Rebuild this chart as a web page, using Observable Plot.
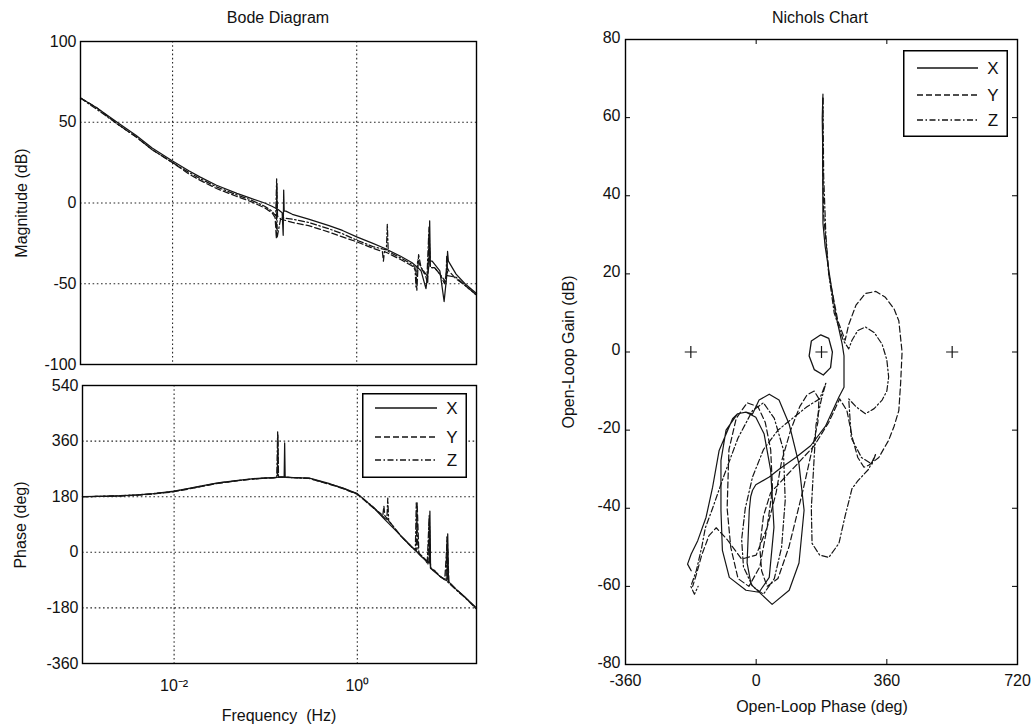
<!DOCTYPE html>
<html><head><meta charset="utf-8">
<script src="https://cdn.jsdelivr.net/npm/d3@7"></script>
<script src="https://cdn.jsdelivr.net/npm/@observablehq/plot@0.6"></script>
<style>
html,body{margin:0;padding:0;background:#fff;}
#root{position:relative;width:1035px;height:728px;overflow:hidden;font-family:"Liberation Sans",Arial,sans-serif;color:#111;}
#root > svg{position:absolute;}
.lbl{position:absolute;font-size:16px;white-space:pre;transform:translate(-50%,-50%);line-height:1;}
.rot{transform:translate(-50%,-50%) rotate(-90deg);}
</style></head><body><div id="root"></div>
<script>
// ---------- Bode data ----------
const fX   = [0.001,0.0015,0.0025,0.004,0.006,0.01,0.015,0.02,0.03,0.05,0.07,0.1,0.12,0.14,0.155,0.159,0.161,0.163,0.17,0.2,0.3,0.5,0.7,1,1.5,2,3,4,5,5.65,6.1,6.2,6.3,6.6,8,8.9,9.5,9.7,9.9,12,15,20];
const magX = [65,59,50,42,34,26,20,16,11,6,3,0,-2,-4,-6,-20,8,-5,-5,-7,-10,-14,-17,-21,-25,-28,-33,-37,-42,-53,-38,-11,-36,-36,-42,-61,-45,-30,-36,-44,-50,-56];
const phX  = [180,181,183,186,190,198,208,215,225,233,238,241,242,243,244,244,354,244,243,242,240,222,208,190,145,106,53,16,-14,-25,-35,133,-50,-57,-78,-88,-92,60,-95,-120,-145,-180];

const fY   = [0.001,0.0015,0.0025,0.004,0.006,0.01,0.015,0.02,0.03,0.05,0.07,0.1,0.12,0.13,0.134,0.136,0.138,0.15,0.2,0.3,0.5,0.7,1,1.5,1.9,1.95,2.0,3,4,4.4,4.5,4.7,5,5.6,5.9,6.1,6.3,7,8,9,9.6,10,12,15,20];
const magY = [65,59,49,41,33,25,18,14,9,4,1,-3,-6,-9,-22,12,-8,-10,-12,-14,-18,-21,-24,-28,-30,-36,-30,-35,-39,-42,-54,-32,-40,-45,-50,-20,-40,-40,-44,-50,-40,-42,-47,-51,-57];
const phY  = [180,181,182,185,189,196,206,213,223,232,237,240,241,242,243,380,243,243,242,239,220,206,188,143,120,150,118,52,14,4,160,-5,-12,-28,-40,110,-50,-60,-78,-88,40,-96,-120,-146,-182];

const fZ   = [0.001,0.0015,0.0025,0.004,0.006,0.01,0.015,0.02,0.03,0.05,0.07,0.1,0.12,0.132,0.135,0.137,0.15,0.2,0.3,0.5,0.7,1,1.5,2.1,2.15,2.2,3,4,4.3,4.4,4.6,5,5.8,6.1,6.3,7,8,9.3,9.5,9.7,12,15,20];
const magZ = [65,58,49,41,33,25,19,15,10,5,2,-2,-5,-8,15,-21,-9,-10,-12,-16,-19,-23,-27,-29,-13,-30,-34,-38,-40,-52,-35,-40,-45,-15,-40,-40,-44,-49,-33,-45,-46,-51,-57];
const phZ  = [180,181,183,186,190,197,207,214,224,232,237,240,241,242,390,243,243,242,239,221,207,189,146,104,175,102,52,15,8,160,0,-10,-30,120,-52,-60,-78,-90,50,-96,-122,-147,-184];

const freqGrid = [0.01, 1];
const freqTickLabels = ["10\u207B\u00B2", "10\u2070"];
const magTicks = [-100, -50, 0, 50, 100];
const phaseTicks = [-360, -180, 0, 180, 360, 540];

// ---------- Nichols data ----------
const nicXPhase = [184,182,183,184,190,200,219,237,242,242,228,191,150,109,63,36,-1,-10,-15,-19,-25,-14,14,44,91,118,132,118,91,63,36,8,-10,-28,-51,-83,-97,-97,-93,-74,-28,8,36,49,40,22,-1,-28,-51,-65,-102,-120,-138,-161,-179,-189,-179,-185];
const nicXGain  = [66,60,54,33,27,21,9.7,2,-1,-9,-11.5,-19,-24,-27,-30,-32,-34,-35.4,-37,-40.5,-54,-59.5,-62,-64.6,-61,-54,-40.5,-28.7,-18.5,-12.3,-10.8,-12.3,-15.9,-15.4,-15.8,-20,-27.8,-40.6,-50.8,-57.7,-61,-61.5,-57.7,-44.9,-30.3,-21,-16.7,-15.4,-15.8,-17.1,-25.2,-34.6,-42.3,-48.3,-51.7,-54.3,-56,-55];
const nicXLoopPhase = [178,200,210,205,185,160,146,152,178];
const nicXLoopGain  = [4.4,3.5,0,-4,-5.9,-4.5,-1,2.8,4.4];

const nicYPhase = [184,183,186,200,225,245,255,275,301,330,356,380,393,402,398,393,380,365,338,310,297,280,265,250,230,200,160,120,80,40,20,10,15,30,60,90,130,154,170,173,160,140,120,95,70,55,30,10,-20,-50,-70,-80,-75,-55,-25,5,25,40,45,30,0,-40,-80,-110,-130,-150,-165,-175];
const nicYGain  = [65,50,35,20,8,3,7,12,15,15.5,14,11,8,0,-8,-15,-19,-22.6,-27,-29,-29.5,-27,-22,-15,-12,-18,-24,-28,-32,-36,-42,-50,-56,-60,-58,-50,-35,-25,-18,-12,-10,-11,-14,-20,-28,-36,-45,-55,-60,-58,-50,-40,-25,-17,-13,-14,-18,-25,-35,-45,-52,-53,-48,-45,-47,-52,-57,-60];

const nicZPhase = [184,186,192,200,215,240,255,264,280,301,325,347,360,365,360,347,325,301,275,255,262,290,319,330,310,280,264,245,228,200,175,154,152,158,165,180,192,175,140,100,60,20,-10,-30,-40,-35,-10,20,50,70,80,75,50,20,-10,-50,-90,-120,-140,-150,-165,-180,-170,-160];
const nicZGain  = [65,45,30,20,10,3,0.8,3,5.5,6.4,5,2,-2,-6.4,-10,-12.3,-14.5,-15.8,-14,-12,-22,-27,-28.7,-26,-30,-33,-35,-42,-49,-52.6,-52,-49,-40,-30,-18.5,-12,-8,-12,-14,-17,-20,-25,-32,-40,-48,-55,-60,-62,-58,-50,-38,-25,-17,-13,-15,-22,-32,-40,-45,-50,-56,-60,-62,-60];

const critPhase = [-180, 180, 540];
const critGain  = [0, 0, 0];
const nicPhaseTicks = [-360, 0, 360, 720];
const nicGainTicks = [-80, -60, -40, -20, 0, 20, 40, 60, 80];

const seriesNames = ["X", "Y", "Z"];

// ---------- styles ----------
const INK = "#151515";
const DASH = {X: null, Y: "6,3", Z: "6,2.5,1.5,2.5"};
const gridStyle = {stroke: "#000", strokeOpacity: 0.85, strokeDasharray: "1.6,2.6", strokeWidth: 1.1};
const svgStyle = {fontFamily: '"Liberation Sans", Arial, sans-serif', fontSize: "16px", color: "#111", background: "transparent", overflow: "visible"};
const plain = d => String(d);

const toRows = (f, a, b) => f.map((v, i) => ({f: v, mag: a[i], ph: b[i]}));
const bode = {X: toRows(fX, magX, phX), Y: toRows(fY, magY, phY), Z: toRows(fZ, magZ, phZ)};
const toPts = (p, g) => p.map((v, i) => ({p: v, g: g[i]}));
const nic = {X: toPts(nicXPhase, nicXGain), Y: toPts(nicYPhase, nicYGain), Z: toPts(nicZPhase, nicZGain)};

const root = document.getElementById("root");
function place(el, left, top) { el.style.left = left + "px"; el.style.top = top + "px"; root.appendChild(el); }
function label(text, x, y, rot) {
  const d = document.createElement("div");
  d.className = "lbl" + (rot ? " rot" : "");
  d.textContent = text;
  d.style.left = x + "px"; d.style.top = y + "px";
  root.appendChild(d);
}
const lineMarks = (yField) => seriesNames.map(s =>
  Plot.line(bode[s], {x: "f", y: yField, stroke: INK, strokeWidth: 1.25, strokeDasharray: DASH[s]}));

// ---------- Bode magnitude ----------
const mag = Plot.plot({
  width: 500, height: 380, marginLeft: 80, marginRight: 24, marginTop: 41, marginBottom: 16,
  style: svgStyle,
  x: {type: "log", domain: [0.001, 20], axis: null},
  y: {domain: [-100, 100]},
  marks: [
    Plot.gridX(freqGrid, gridStyle),
    Plot.gridY(magTicks, gridStyle),
    ...lineMarks("mag"),
    Plot.frame({stroke: "#000", strokeWidth: 1.4}),
    Plot.axisY(magTicks, {anchor: "left", tickSize: 0, tickPadding: 4, label: null, fontSize: 16, tickFormat: plain})
  ]
});
place(mag, 0, 0);

// ---------- Bode phase ----------
const ph = Plot.plot({
  width: 500, height: 358, marginLeft: 82, marginRight: 24, marginTop: 15, marginBottom: 65,
  style: svgStyle,
  x: {type: "log", domain: [0.001, 20]},
  y: {domain: [-360, 540]},
  marks: [
    Plot.gridX(freqGrid, gridStyle),
    Plot.gridY(phaseTicks, gridStyle),
    ...lineMarks("ph"),
    Plot.frame({stroke: "#000", strokeWidth: 1.4}),
    Plot.axisY(phaseTicks, {anchor: "left", tickSize: 0, tickPadding: 4, label: null, fontSize: 16, tickFormat: plain}),
    Plot.axisX(freqGrid, {anchor: "bottom", tickSize: 0, tickPadding: 16, label: null, fontSize: 16,
      tickFormat: (d) => freqTickLabels[freqGrid.indexOf(d)]})
  ]
});
place(ph, 0, 370);

// ---------- Nichols ----------
const NW = 495 - 85 - 18, NH = 728 - 39 - 64;
const nich = Plot.plot({
  width: 495, height: 728, marginLeft: 85, marginRight: 18, marginTop: 39, marginBottom: 64,
  style: svgStyle,
  x: {domain: [-360, 720]},
  y: {domain: [-80, 80]},
  marks: [
    Plot.tickY(nicGainTicks, {y: d => d, insetRight: NW - 5, stroke: "#000"}),
    Plot.tickY(nicGainTicks, {y: d => d, insetLeft: NW - 5, stroke: "#000"}),
    Plot.tickX(nicPhaseTicks, {x: d => d, insetBottom: NH - 5, stroke: "#000"}),
    Plot.tickX(nicPhaseTicks, {x: d => d, insetTop: NH - 5, stroke: "#000"}),
    ...seriesNames.map(s => Plot.line(nic[s], {x: "p", y: "g", stroke: INK, strokeWidth: 1.2, strokeDasharray: DASH[s]})),
    Plot.line(toPts(nicXLoopPhase, nicXLoopGain), {x: "p", y: "g", stroke: INK, strokeWidth: 1.3}),
    Plot.dot(toPts(critPhase, critGain), {x: "p", y: "g", symbol: "plus", r: 4, stroke: INK, strokeWidth: 1.2}),
    Plot.frame({stroke: "#000", strokeWidth: 1.4}),
    Plot.axisY(nicGainTicks, {anchor: "left", tickSize: 0, tickPadding: 5, dy: -2, label: null, fontSize: 16, tickFormat: plain}),
    Plot.axisX(nicPhaseTicks, {anchor: "bottom", tickSize: 0, tickPadding: 10, label: null, fontSize: 16, tickFormat: plain})
  ]
});
place(nich, 540, 0);

// ---------- legends ----------
function legend(left, top, w, h, rowsY, x1, x2, tx) {
  const svg = d3.create("svg").attr("width", w).attr("height", h).style("position", "absolute")
    .style("left", left + "px").style("top", top + "px").style("overflow", "visible");
  svg.append("rect").attr("x", 0.75).attr("y", 0.75).attr("width", w - 1.5).attr("height", h - 1.5)
    .attr("fill", "#fff").attr("stroke", "#000").attr("stroke-width", 1.5);
  seriesNames.forEach((s, i) => {
    svg.append("line").attr("x1", x1).attr("x2", x2).attr("y1", rowsY[i]).attr("y2", rowsY[i])
      .attr("stroke", INK).attr("stroke-width", 1.3).attr("stroke-dasharray", DASH[s]);
    svg.append("text").attr("x", tx).attr("y", rowsY[i]).attr("dy", "0.36em").attr("text-anchor", "middle")
      .attr("font-family", '"Liberation Sans", Arial, sans-serif').attr("font-size", 17).attr("fill", "#111").text(s);
  });
  root.appendChild(svg.node());
}
legend(362, 393, 105, 85, [15, 44, 67], 13, 75, 90);
legend(903, 50, 105, 87, [18, 45, 70], 14, 75, 90);

// ---------- titles & axis labels ----------
label("Bode Diagram", 278, 18);
label("Magnitude (dB)", 22, 203, true);
label("Phase (deg)", 21, 525, true);
label("Frequency  (Hz)", 279, 716);
label("Nichols Chart", 820, 18);
label("Open-Loop Gain (dB)", 569, 352, true);
label("Open-Loop Phase (deg)", 822, 707);
</script></body></html>
